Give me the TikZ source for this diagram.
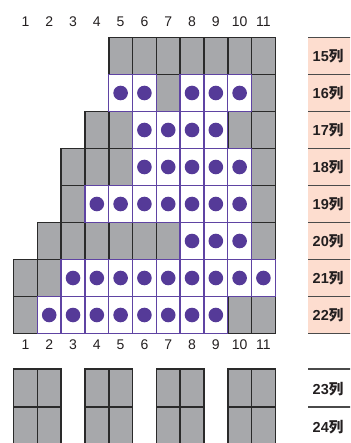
\documentclass[tikz,border=0pt]{standalone}
\usepackage{fontspec}
\setmainfont{Liberation Sans}
\newfontfamily\cjk{Noto Sans CJK SC}
\definecolor{cellgray}{HTML}{A7A8AB}
\definecolor{edgedark}{HTML}{2A2A2A}
\definecolor{lineviolet}{HTML}{5F44A3}
\definecolor{dotviolet}{HTML}{553A98}
\definecolor{labpink}{HTML}{FDDDCF}
\definecolor{labtext}{HTML}{231F20}
\tikzset{
  graycell/.style={fill=cellgray,draw=edgedark,line width=1.6pt},
  dotcell/.style={fill=white,draw=lineviolet,line width=1.3pt},
  dotmark/.style={fill=dotviolet,draw=none},
  numlab/.style={font=\fontsize{14}{14}\selectfont,text=labtext,inner sep=0pt},
  rowlab/.style={font=\fontsize{14.5}{14.5}\selectfont\bfseries,text=labtext,inner sep=0pt,anchor=west},
  sepline/.style={draw=edgedark!85,line width=1.1pt}
}
\begin{document}
\begin{tikzpicture}[x=1pt,y=-1pt]
\useasboundingbox (0,0) rectangle (350,443);
\clip (0,0) rectangle (350,443);
\def\cw{23.8}
\def\rh{37}
% column numbers
\foreach \c in {1,...,11}{
  \node[numlab] (top\c) at ({13.5+(\c-0.5)*\cw},22) {\c};
  \node[numlab] (bot\c) at ({13.5+(\c-0.5)*\cw},345) {\c};
}
% gray cells
\foreach \c/\r in {5/15,6/15,7/15,8/15,9/15,10/15,11/15,
  7/16,11/16,
  4/17,5/17,10/17,11/17,
  3/18,4/18,5/18,11/18,
  3/19,11/19,
  2/20,3/20,4/20,5/20,6/20,7/20,11/20,
  1/21,2/21,
  1/22,10/22,11/22}{
  \draw[graycell] ({13.5+(\c-1)*\cw},{37.5+(\r-15)*\rh}) rectangle ++(\cw,\rh);
}
% dotted cells
\foreach \c/\r in {5/16,6/16,8/16,9/16,10/16,
  6/17,7/17,8/17,9/17,
  6/18,7/18,8/18,9/18,10/18,
  4/19,5/19,6/19,7/19,8/19,9/19,10/19,
  8/20,9/20,10/20,
  3/21,4/21,5/21,6/21,7/21,8/21,9/21,10/21,11/21,
  2/22,3/22,4/22,5/22,6/22,7/22,8/22,9/22}{
  \draw[dotcell] ({13.5+(\c-1)*\cw},{37.5+(\r-15)*\rh}) rectangle ++(\cw,\rh);
  \fill[dotmark] ({13.5+(\c-0.5)*\cw},{37.5+(\r-14.5)*\rh}) circle (7.3);
}
% bottom blocks
\foreach \c in {1,2,4,5,7,8,10,11}{
  \foreach \y in {369,407}{
    \draw[graycell] ({13.5+(\c-1)*\cw},\y) rectangle ++(\cw,38);
  }
}
% row labels
\fill[labpink] (308,37.5) rectangle (352,333.5);
\foreach \i in {0,...,8}{
  \draw[sepline] (308,{37.5+\i*\rh}) -- (352,{37.5+\i*\rh});
}
\foreach \r in {15,...,22}{
  \node[rowlab] (lab\r) at (312.5,{37.5+(\r-14.5)*\rh}) {\r{\cjk\bfseries 列}};
}
\draw[sepline] (308,369) -- (352,369);
\draw[sepline] (308,407) -- (352,407);
\node[rowlab] (lab23) at (312.5,389.5) {23{\cjk\bfseries 列}};
\node[rowlab] (lab24) at (312.5,427) {24{\cjk\bfseries 列}};
\end{tikzpicture}
\end{document}
